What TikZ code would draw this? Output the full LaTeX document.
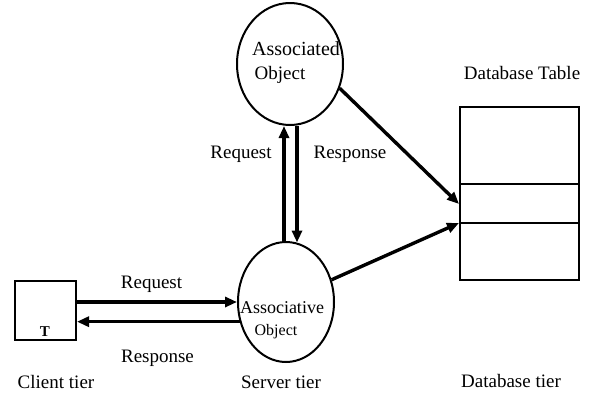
\documentclass[tikz,border=0pt]{standalone}
\usepackage{fontspec}
\setmainfont{Liberation Serif}
\usetikzlibrary{arrows.meta,shapes.geometric}
\begin{document}
\begin{tikzpicture}[x=1pt,y=-1pt,
  outline/.style={draw, line width=2pt, inner sep=0pt},
  lbl/.style={anchor=base, inner sep=0pt, font=\fontsize{19}{23}\selectfont},
  arr/.style={line width=3.4pt, -{Triangle[length=12pt,width=10pt]}}]
\useasboundingbox (0,0) rectangle (590,394);
% shapes
\node[ellipse, outline, minimum width=106pt, minimum height=122pt] (assoc) at (290,64) {};
\node[ellipse, outline, minimum width=96pt, minimum height=120pt] (serv) at (286,302) {};
\node[rectangle, outline, minimum width=61pt, minimum height=59pt] (client) at (45.5,310.5) {};
\node[rectangle, outline, minimum width=119pt, minimum height=173pt] (table) at (519.5,193.5) {};
\draw[line width=2pt] ([yshift=9.5pt]table.west) -- ([yshift=9.5pt]table.east);
\draw[line width=2pt] ([yshift=-29.5pt]table.west) -- ([yshift=-29.5pt]table.east);
% texts inside
\node[anchor=base, inner sep=0pt, font=\fontsize{20}{24}\selectfont] (t1) at (296,55) {Associated};
\node[anchor=base, inner sep=0pt, font=\fontsize{19}{23}\selectfont] (t2) at (280,79) {Object};
\node[anchor=base, inner sep=0pt, font=\fontsize{18}{22}\selectfont] (t3) at (282,313) {Associative};
\node[anchor=base, inner sep=0pt, font=\fontsize{16}{20}\selectfont] (t4) at (276,335) {Object};
\node[anchor=base, inner sep=0pt, font=\bfseries\fontsize{15}{17}\selectfont] (tt) at (45,336) {T};
% labels
\node[lbl] (l1) at (151.5,288) {Request};
\node[lbl] (l2) at (157.5,362) {Response};
\node[lbl] (l3) at (56,388) {Client tier};
\node[lbl] (l4) at (281,388) {Server tier};
\node[lbl] (l5) at (511,387) {Database tier};
\node[lbl] (l6) at (522,79) {Database Table};
\node[lbl] (l7) at (241,158) {Request};
\node[lbl] (l8) at (350,158) {Response};
% connectors
\draw[arr, line width=4.5pt] (client.east |- serv.west) -- (serv.west);
\draw[arr] (serv.203.8) -- (client.east |- serv.203.8);
\draw[arr] ([xshift=-2pt]serv.north) -- ([xshift=-6pt]assoc.south);
\draw[arr] ([xshift=7pt]assoc.south) -- ([xshift=11pt,yshift=-1.5pt]serv.north);
\draw[arr] (assoc.-26.2) -- ([yshift=-10.5pt]table.west);
\draw[arr] (serv.26.6) -- ([yshift=-29.5pt]table.west);
\end{tikzpicture}
\end{document}
